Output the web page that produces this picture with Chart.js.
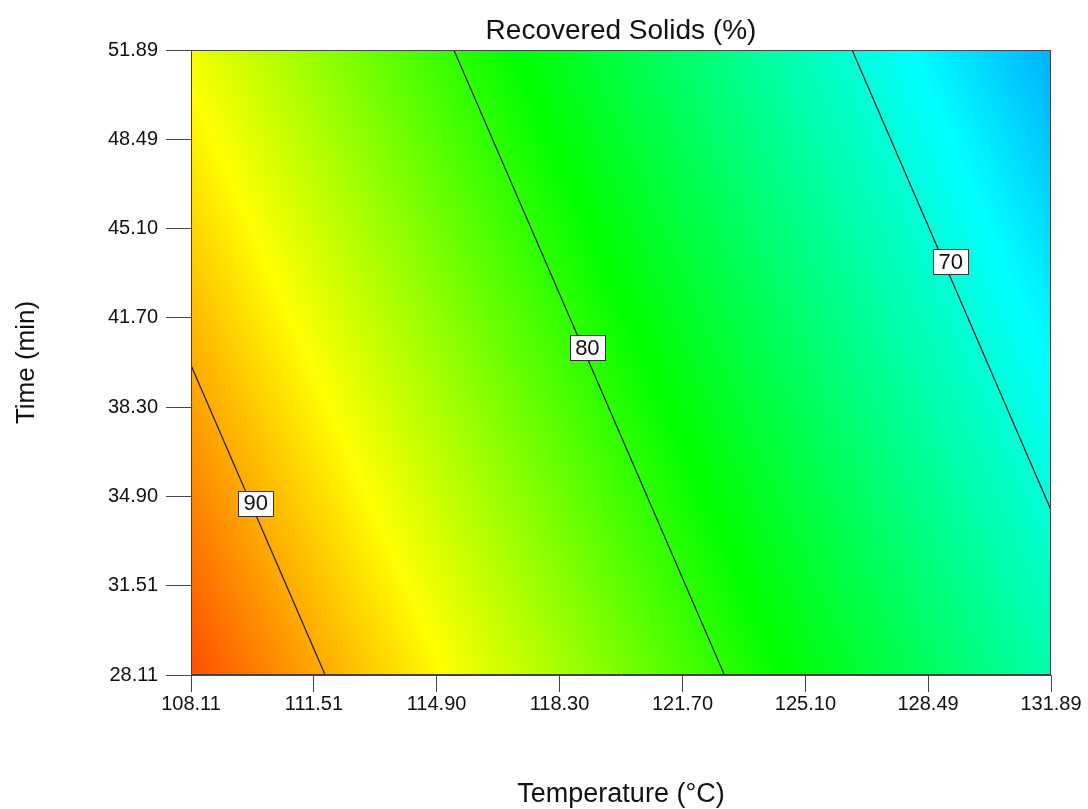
<!DOCTYPE html>
<html>
<head>
<meta charset="utf-8">
<title>Recovered Solids (%)</title>
<script src="https://cdn.jsdelivr.net/npm/chart.js@4.4.1/dist/chart.umd.min.js"></script>
<style>
  html, body { margin: 0; padding: 0; background: #ffffff; }
  #wrap { width: 1088px; height: 809px; position: relative; }
</style>
</head>
<body>
<div id="wrap"><canvas id="chart" width="1088" height="809"></canvas></div>
<script>
// Axis tick labels
const tempTicks = ['108.11', '111.51', '114.90', '118.30', '121.70', '125.10', '128.49', '131.89'];
const timeTicks = ['28.11', '31.51', '34.90', '38.30', '41.70', '45.10', '48.49', '51.89'];

// Response surface: recovered solids (%) at the corners of the region
const cornerTemps = [108.11, 131.89];
const cornerTimes = [28.11, 51.89];
const cornerValuesLow = [93.4, 71.8];   // at time 28.11
const cornerValuesHigh = [86.6, 65.0];  // at time 51.89

// Contour lines (end points) and their levels
const contourLevels = [90, 80, 70];
const contourTemps = [[108.11, 111.82], [115.38, 122.86], [126.39, 131.89]];
const contourTimes = [[39.90, 28.11], [51.89, 28.11], [51.89, 34.39]];

// Where each contour level is labelled
const labelTemps = [109.90, 119.07, 129.12];
const labelTimes = [34.65, 40.57, 43.84];

const chartTitle = 'Recovered Solids (%)';
const FONT = "'Liberation Sans', Arial, sans-serif";

// Colour ramp: blue -> cyan -> green -> yellow -> red
const rampStops = [
  { v: 59.0, c: [0, 40, 255] },
  { v: 68.5, c: [0, 255, 255] },
  { v: 78.5, c: [0, 255, 0] },
  { v: 87.0, c: [255, 255, 0] },
  { v: 95.5, c: [255, 20, 0] }
];
function rampColor(v) {
  if (v <= rampStops[0].v) return rampStops[0].c;
  for (let i = 1; i < rampStops.length; i++) {
    const a = rampStops[i - 1], b = rampStops[i];
    if (v <= b.v) {
      const f = (v - a.v) / (b.v - a.v);
      return [0, 1, 2].map(k => Math.round(a.c[k] + (b.c[k] - a.c[k]) * f));
    }
  }
  return rampStops[rampStops.length - 1].c;
}

function surfaceValue(T, t) {
  const u = (T - cornerTemps[0]) / (cornerTemps[1] - cornerTemps[0]);
  const w = (t - cornerTimes[0]) / (cornerTimes[1] - cornerTimes[0]);
  const low = cornerValuesLow[0] + (cornerValuesLow[1] - cornerValuesLow[0]) * u;
  const high = cornerValuesHigh[0] + (cornerValuesHigh[1] - cornerValuesHigh[0]) * u;
  return low + (high - low) * w;
}

// Paints the coloured response surface behind the contour lines,
// then the level labels, the plot frame and the centred title
const surfacePlugin = {
  id: 'surface',
  beforeDatasetsDraw(chart) {
    const { ctx, chartArea: a, scales: { x, y } } = chart;
    const w = Math.round(a.right - a.left), h = Math.round(a.bottom - a.top);
    const off = document.createElement('canvas');
    off.width = w; off.height = h;
    const octx = off.getContext('2d');
    const img = octx.createImageData(w, h);
    for (let j = 0; j < h; j++) {
      const t = y.getValueForPixel(a.top + j + 0.5);
      for (let i = 0; i < w; i++) {
        const T = x.getValueForPixel(a.left + i + 0.5);
        const c = rampColor(surfaceValue(T, t));
        const p = (j * w + i) * 4;
        img.data[p] = c[0]; img.data[p + 1] = c[1]; img.data[p + 2] = c[2]; img.data[p + 3] = 255;
      }
    }
    octx.putImageData(img, 0, 0);
    ctx.save();
    ctx.drawImage(off, a.left, a.top);
    ctx.restore();
  },
  afterDatasetsDraw(chart) {
    const { ctx, chartArea: a, scales: { x, y } } = chart;
    ctx.save();
    ctx.font = '22px ' + FONT;
    ctx.textAlign = 'center';
    ctx.textBaseline = 'middle';
    contourLevels.forEach((lvl, i) => {
      const px = x.getPixelForValue(labelTemps[i]);
      const py = y.getPixelForValue(labelTimes[i]);
      const txt = String(lvl);
      const tw = ctx.measureText(txt).width;
      const bw = Math.round(tw + 11), bh = 25;
      const bx = Math.round(px - bw / 2) + 0.5, by = Math.round(py - bh / 2) + 0.5;
      ctx.fillStyle = '#ffffff';
      ctx.fillRect(bx, by, bw, bh);
      ctx.strokeStyle = '#333333';
      ctx.lineWidth = 1;
      ctx.strokeRect(bx, by, bw, bh);
      ctx.fillStyle = '#111111';
      ctx.fillText(txt, px, py + 1);
    });
    ctx.strokeStyle = '#444444';
    ctx.lineWidth = 1;
    ctx.strokeRect(Math.round(a.left) + 0.5, Math.round(a.top) + 0.5,
                   Math.round(a.right - a.left) - 1, Math.round(a.bottom - a.top) - 1);
    ctx.restore();
  },
  afterDraw(chart) {
    const { ctx, chartArea: a } = chart;
    ctx.save();
    ctx.font = '28px ' + FONT;
    ctx.fillStyle = '#111111';
    ctx.textAlign = 'center';
    ctx.textBaseline = 'middle';
    ctx.fillText(chartTitle, (a.left + a.right) / 2, 31);
    ctx.restore();
  }
};

const datasets = contourLevels.map((lvl, i) => ({
  label: String(lvl),
  data: contourTemps[i].map((T, k) => ({ x: T, y: contourTimes[i][k] })),
  showLine: true,
  borderColor: '#1a1a1a',
  borderWidth: 1.2,
  pointRadius: 0,
  fill: false
}));

const tempValues = tempTicks.map(Number);
const timeValues = timeTicks.map(Number);

new Chart(document.getElementById('chart'), {
  type: 'scatter',
  data: { datasets },
  plugins: [surfacePlugin],
  options: {
    responsive: false,
    animation: false,
    events: [],
    layout: { padding: { left: 0, right: 37, top: 50, bottom: 0 } },
    plugins: {
      legend: { display: false },
      tooltip: { enabled: false },
      title: { display: false }
    },
    scales: {
      x: {
        type: 'linear',
        min: tempValues[0],
        max: tempValues[tempValues.length - 1],
        afterBuildTicks(scale) { scale.ticks = tempValues.map(v => ({ value: v })); },
        afterFit(scale) { scale.height = 134; },
        ticks: {
          autoSkip: false,
          maxRotation: 0,
          padding: 0,
          color: '#111111',
          font: { family: FONT, size: 20 },
          callback(value) { const i = tempValues.indexOf(value); return i >= 0 ? tempTicks[i] : ''; }
        },
        grid: { drawOnChartArea: false, drawTicks: true, tickLength: 17, color: '#444444' },
        border: { display: true, color: '#444444' },
        title: {
          display: true,
          text: 'Temperature (°C)',
          color: '#111111',
          font: { family: FONT, size: 27, lineHeight: 1.1 },
          padding: { top: 0, bottom: 0 }
        }
      },
      y: {
        type: 'linear',
        min: timeValues[0],
        max: timeValues[timeValues.length - 1],
        afterBuildTicks(scale) { scale.ticks = timeValues.map(v => ({ value: v })); },
        afterFit(scale) { scale.width = 191; },
        ticks: {
          autoSkip: false,
          padding: 8,
          color: '#111111',
          font: { family: FONT, size: 20 },
          callback(value) { const i = timeValues.indexOf(value); return i >= 0 ? timeTicks[i] : ''; }
        },
        grid: { drawOnChartArea: false, drawTicks: true, tickLength: 25, color: '#444444' },
        border: { display: true, color: '#444444' },
        title: {
          display: true,
          text: 'Time (min)',
          color: '#111111',
          font: { family: FONT, size: 26, lineHeight: 1.2 },
          padding: { top: 11, bottom: 0 }
        }
      }
    }
  }
});
</script>
</body>
</html>
